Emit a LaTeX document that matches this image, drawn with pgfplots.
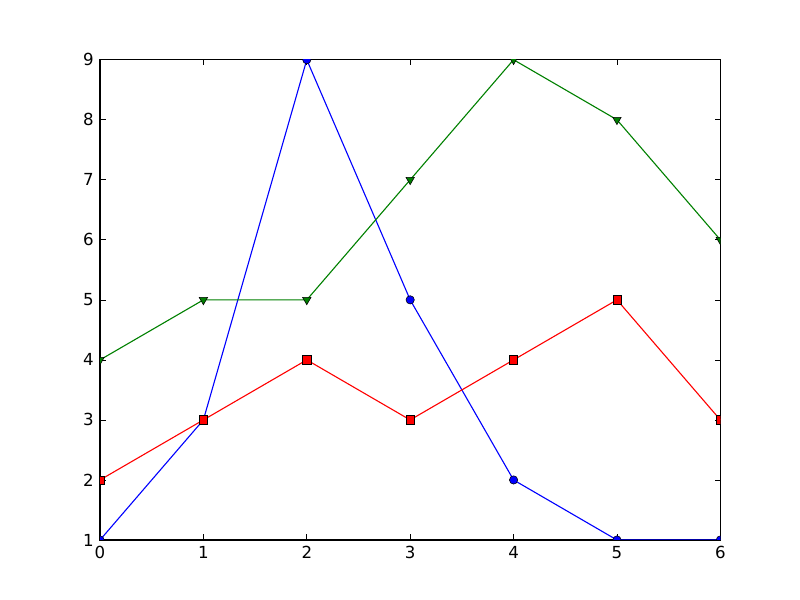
\documentclass[border=0pt]{standalone}
\usepackage{pgfplots}
\pgfplotsset{compat=1.18}
\usepackage{fontspec}
\setmainfont{DejaVu Sans}
\definecolor{mplgreen}{rgb}{0,0.5,0}
\begin{document}
\begin{tikzpicture}[x=0.01in,y=0.01in]
\path (-100,-60) rectangle (700,540);
\begin{axis}[
  at={(0,0)}, anchor=south west,
  scale only axis,
  width=6.2in, height=4.8in,
  xmin=0, xmax=6, ymin=1, ymax=9,
  xtick={0,...,6}, ytick={1,...,9},
  tick align=inside,
  major tick length=4pt,
  tick style={black, line width=0.5pt},
  axis line style={line width=0.8pt},
  ticklabel style={font=\fontsize{12}{14}\selectfont},
  /pgf/number format/assume math mode=true,
  xticklabel style={yshift=-1pt},
  yticklabel style={xshift=-1pt},
  clip marker paths=true,
  every axis plot/.append style={line width=0.8pt},
]
\addplot[blue, mark=*, mark size=3pt, mark options={fill=blue, draw=black, line width=0.4pt}]
  coordinates {(0,1) (1,3) (2,9) (3,5) (4,2) (5,1) (6,1)};
\addplot[red, mark=square*, mark size=3pt, mark options={fill=red, draw=black, line width=0.4pt}]
  coordinates {(0,2) (1,3) (2,4) (3,3) (4,4) (5,5) (6,3)};
\addplot[mplgreen, mark=triangle*, mark size=3.5pt, mark options={rotate=180, fill=mplgreen, draw=black, line width=0.4pt}]
  coordinates {(0,4) (1,5) (2,5) (3,7) (4,9) (5,8) (6,6)};
\end{axis}
\end{tikzpicture}
\end{document}
